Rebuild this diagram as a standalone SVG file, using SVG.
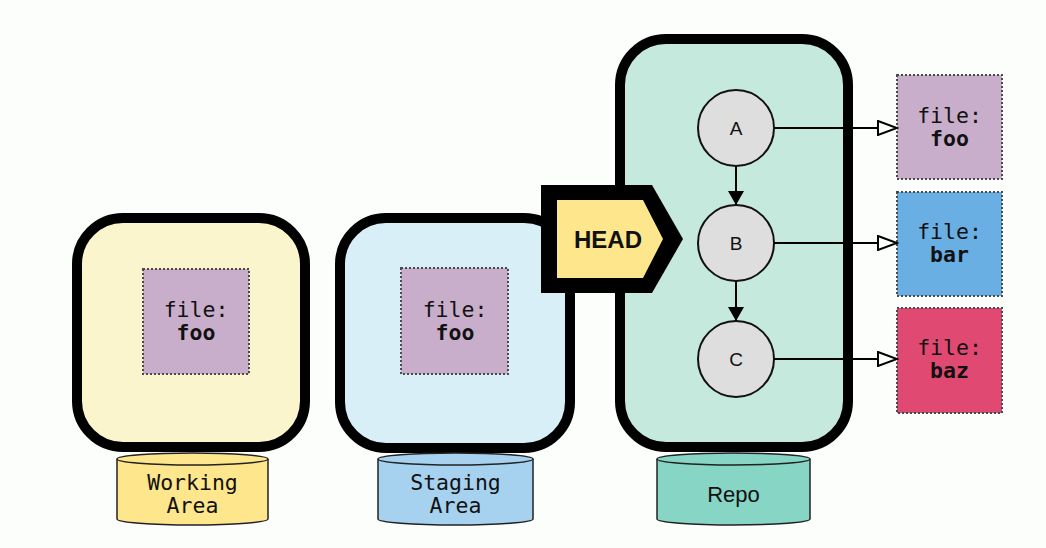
<svg xmlns="http://www.w3.org/2000/svg" width="1046" height="548" viewBox="0 0 1046 548">
  <defs>
    <style>
      .area { stroke: #000; stroke-width: 10; }
      .file { stroke: #4a4a4a; stroke-width: 2; stroke-dasharray: 2 2; }
      .mono { font-family: "DejaVu Sans Mono", "Liberation Mono", monospace; font-size: 21.5px; fill: #111; text-anchor: middle; }
      .bold { font-weight: bold; }
      .sans { font-family: "Liberation Sans", Arial, sans-serif; fill: #111; text-anchor: middle; }
      .cyl { stroke: #222; stroke-width: 1.5; }
      .commit { fill: #dedede; stroke: #111; stroke-width: 2; }
      .edge { stroke: #000; stroke-width: 2; fill: none; }
    </style>
    <marker id="solid" viewBox="0 0 14 18" refX="14" refY="9" markerWidth="14" markerHeight="18" markerUnits="userSpaceOnUse" orient="auto">
      <path d="M0,1 L14,9 L0,17 Z" fill="#000"/>
    </marker>
    <marker id="hollow" viewBox="0 0 22 16" refX="20" refY="8" markerWidth="22" markerHeight="16" markerUnits="userSpaceOnUse" orient="auto">
      <path d="M1,1 L20,8 L1,15 Z" fill="#fff" stroke="#000" stroke-width="2"/>
    </marker>
  </defs>

  <rect width="1046" height="548" fill="#fcfefc"/>

  <!-- Working area -->
  <g id="working">
    <rect class="area" x="77" y="218" width="228" height="229" rx="46" fill="#faf5cd"/>
    <rect class="file" x="143" y="269" width="106" height="105" fill="#c8aecb"/>
    <text class="mono" x="196" y="317">file:</text>
    <text class="mono bold" x="196" y="340">foo</text>
    <path class="cyl" d="M117,459 L117,519 A75.5,6 0 0 0 268,519 L268,459" fill="#fde68b"/>
    <ellipse class="cyl" cx="192.5" cy="459" rx="75.5" ry="6" fill="#fde68b"/>
    <text class="mono" x="192.5" y="490">Working</text>
    <text class="mono" x="192.5" y="513">Area</text>
  </g>

  <!-- Staging area -->
  <g id="staging">
    <rect class="area" x="340" y="218" width="230" height="230" rx="46" fill="#d9eff7"/>
    <rect class="file" x="401" y="268" width="107" height="106" fill="#c8aecb"/>
    <text class="mono" x="455" y="317">file:</text>
    <text class="mono bold" x="455" y="340">foo</text>
    <path class="cyl" d="M378,459 L378,519 A77.5,6 0 0 0 533,519 L533,459" fill="#a6d2ef"/>
    <ellipse class="cyl" cx="455.5" cy="459" rx="77.5" ry="6" fill="#a6d2ef"/>
    <text class="mono" x="455.5" y="490">Staging</text>
    <text class="mono" x="455.5" y="513">Area</text>
  </g>

  <!-- Repository -->
  <g id="repo">
    <rect class="area" x="620" y="39" width="228" height="408" rx="46" fill="#c6e9dd"/>
    <path class="cyl" d="M657,459 L657,519 A76.5,6 0 0 0 810,519 L810,459" fill="#87d5c4"/>
    <ellipse class="cyl" cx="733.5" cy="459" rx="76.5" ry="6" fill="#87d5c4"/>
    <text class="sans" x="733.5" y="502" font-size="22">Repo</text>
  </g>

  <!-- HEAD pointer -->
  <g id="head">
    <polygon points="541,185 652,185 683,239 652,293 541,293" fill="#000"/>
    <polygon points="557,200 643,200 663,239 643,278 557,278" fill="#fde68b"/>
    <text class="sans" x="608" y="248" font-size="24" font-weight="bold">HEAD</text>
  </g>

  <!-- Commits -->
  <g id="commit-a">
    <circle class="commit" cx="736" cy="128" r="38"/>
    <text class="sans" x="736" y="135" font-size="19">A</text>
  </g>
  <g id="commit-b">
    <circle class="commit" cx="736" cy="243" r="38"/>
    <text class="sans" x="736" y="250" font-size="19">B</text>
  </g>
  <g id="commit-c">
    <circle class="commit" cx="736" cy="359" r="38"/>
    <text class="sans" x="736" y="366" font-size="19">C</text>
  </g>

  <!-- Files in the repository -->
  <g id="file-foo">
    <rect class="file" x="897" y="75" width="105" height="104" fill="#c8aecb"/>
    <text class="mono" x="949.5" y="123">file:</text>
    <text class="mono bold" x="949.5" y="146">foo</text>
  </g>
  <g id="file-bar">
    <rect class="file" x="897" y="192" width="105" height="104" fill="#6aafe3"/>
    <text class="mono" x="949.5" y="239">file:</text>
    <text class="mono bold" x="949.5" y="262">bar</text>
  </g>
  <g id="file-baz">
    <rect class="file" x="897" y="308" width="105" height="105" fill="#e04a72"/>
    <text class="mono" x="949.5" y="355">file:</text>
    <text class="mono bold" x="949.5" y="378">baz</text>
  </g>

  <!-- Connectors -->
  <g id="connectors">
    <line class="edge" x1="736" y1="166" x2="736" y2="205" stroke-width="3" marker-end="url(#solid)"/>
    <line class="edge" x1="736" y1="281" x2="736" y2="321" stroke-width="3" marker-end="url(#solid)"/>
    <line class="edge" x1="774" y1="128" x2="897" y2="128" marker-end="url(#hollow)"/>
    <line class="edge" x1="774" y1="243" x2="897" y2="243" marker-end="url(#hollow)"/>
    <line class="edge" x1="774" y1="359" x2="897" y2="359" marker-end="url(#hollow)"/>
  </g>
</svg>
